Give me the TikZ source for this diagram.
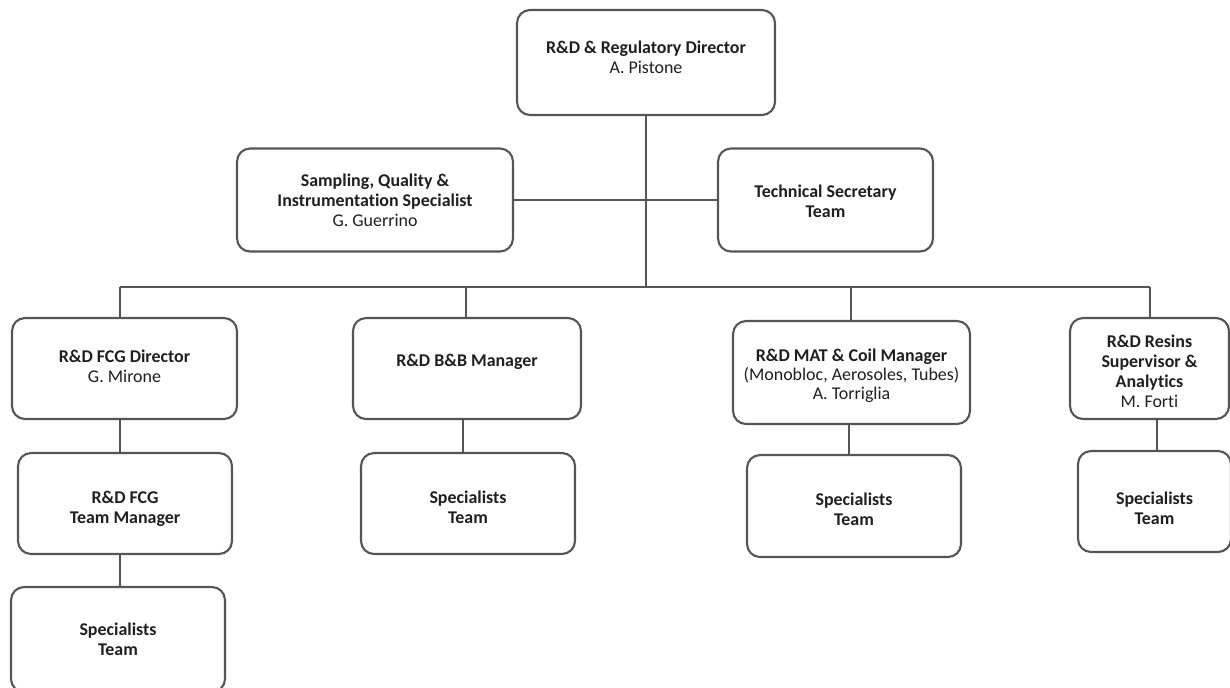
\documentclass[tikz,border=0pt]{standalone}
\usepackage{fontspec}
\setmainfont{Carlito}[Ligatures=NoCommon]
\usetikzlibrary{positioning}
\definecolor{linegray}{HTML}{555555}
\newcommand{\padtop}[1]{\rule{0pt}{\dimexpr\fontcharht\font`\l+#1\relax}}
\tikzstyle{unit} = [draw=linegray, line width=1.2pt, rounded corners=0.26cm, fill=white, align=center, inner sep=0pt, text=black!88, font=\fontsize{10.2}{11.4}\selectfont]
\tikzstyle{link} = [draw=linegray, line width=1.2pt]

\begin{document}
\begin{tikzpicture}[x=0.02cm, y=-0.02cm]
  \useasboundingbox (0,0) rectangle (1230,687);

  % direzione
  \node[unit, minimum width=5.16cm, minimum height=2.1cm, text depth=0.22cm] (dir) at (646,62.5) {\textbf{R\&D \& Regulatory Director}\\A. Pistone};

  % staff
  \node[unit, minimum width=5.52cm, minimum height=2.06cm] (sampling) at (375,200) {\textbf{Sampling, Quality \&}\\\textbf{Instrumentation Specialist}\\G. Guerrino};
  \node[unit, minimum width=4.3cm, minimum height=2.06cm] (techsec) at (825.5,200) {\padtop{1pt}\textbf{Technical Secretary}\\\textbf{Team}};

  % linea di riporto
  \coordinate (bus) at (646,287);
  \coordinate (dA) at (120,287);
  \coordinate (dB) at (466,287);
  \coordinate (dC) at (851,287);
  \coordinate (dD) at (1150,287);

  % responsabili
  \node[unit, minimum width=4.5cm, minimum height=2.02cm, text depth=0.1cm] (fcgdir) at (124.5,368.5) {\textbf{R\&D FCG Director}\\G. Mirone};
  \node[unit, minimum width=4.56cm, minimum height=2.02cm, text depth=0.32cm] (bbmgr) at (467,368.5) {\textbf{R\&D B\&B Manager}};
  \node[unit, minimum width=4.74cm, minimum height=2.06cm, font=\fontsize{10.2}{10.8}\selectfont] (matmgr) at (851.5,372.5) {\padtop{4pt}\textbf{R\&D MAT \& Coil Manager}\\(Monobloc, Aerosoles, Tubes)\\A. Torriglia};
  \node[unit, minimum width=3.18cm, minimum height=2.02cm] (resins) at (1149.5,368.5) {\padtop{3.4pt}\textbf{R\&D Resins}\\\textbf{Supervisor \&}\\\textbf{Analytics}\\M. Forti};

  % team
  \node[unit, minimum width=4.28cm, minimum height=2.02cm] (fcgtm) at (125,503.5) {\padtop{5.7pt}\textbf{R\&D FCG}\\\textbf{Team Manager}};
  \node[unit, minimum width=4.28cm, minimum height=2.1cm] (fcgspec) at (118,639.5) {\textbf{Specialists}\\\textbf{Team}};
  \node[unit, minimum width=4.28cm, minimum height=2.02cm] (bbspec) at (468,503.5) {\padtop{4.5pt}\textbf{Specialists}\\\textbf{Team}};
  \node[unit, minimum width=4.28cm, minimum height=2.04cm] (matspec) at (854,506) {\padtop{4pt}\textbf{Specialists}\\\textbf{Team}};
  \node[unit, minimum width=3.06cm, minimum height=2.02cm] (resspec) at (1154.5,501.5) {\padtop{8pt}\textbf{Specialists}\\\textbf{Team}};

  % collegamenti
  \draw[link] (dir) -- (bus);
  \draw[link] (sampling) -- (techsec);
  \draw[link] (dA) -- (dD);
  \draw[link] (dA) -- (dA |- fcgdir.north);
  \draw[link] (dB) -- (dB |- bbmgr.north);
  \draw[link] (dC) -- (dC |- matmgr.north);
  \draw[link] (dD) -- (dD |- resins.north);
  \draw[link] (dA |- fcgdir.south) -- (dA |- fcgtm.north);
  \draw[link] (dA |- fcgtm.south) -- (dA |- fcgspec.north);
  \draw[link] (bbmgr.south -| 463,0) -- (bbspec.north -| 463,0);
  \draw[link] (matmgr.south -| 849,0) -- (matspec.north -| 849,0);
  \draw[link] (resins.south -| 1157,0) -- (resspec.north -| 1157,0);
\end{tikzpicture}
\end{document}
